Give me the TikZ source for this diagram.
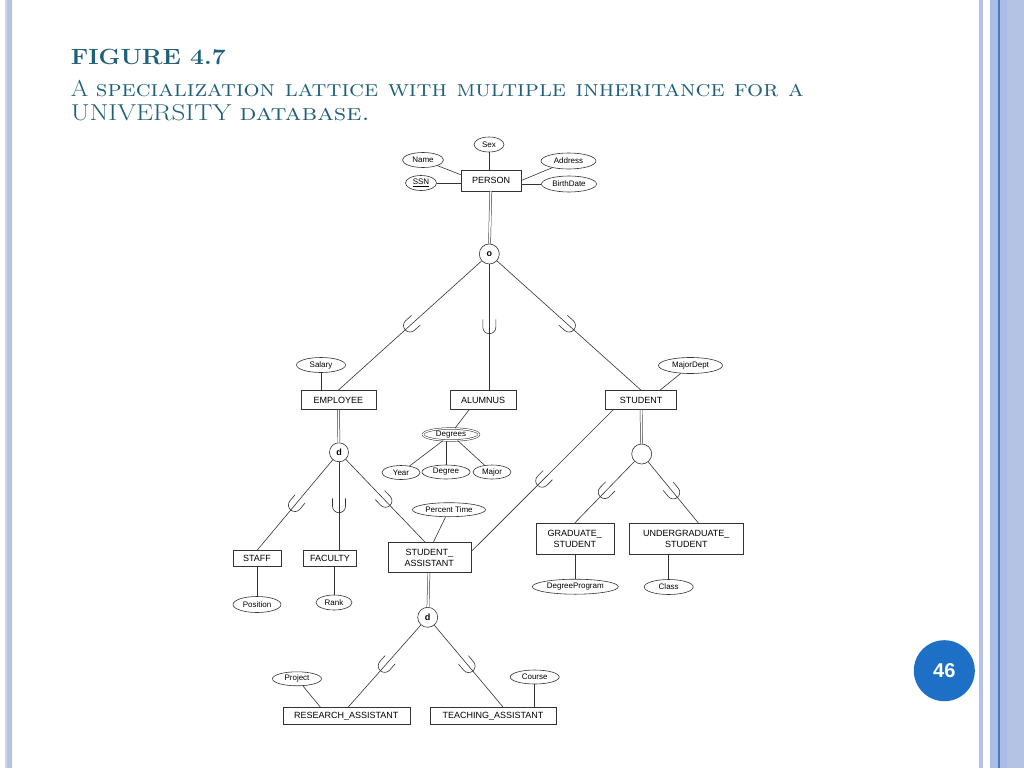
\documentclass[tikz,border=0pt]{standalone}
\usepackage{fontspec}
\setsansfont{Liberation Sans}
\usetikzlibrary{shapes.geometric,decorations.markings}
\definecolor{titlec}{RGB}{31,95,122}
\definecolor{stripeA}{RGB}{180,195,228}
\definecolor{stripeB}{RGB}{170,189,228}
\definecolor{stripeC}{RGB}{74,120,192}
\definecolor{stripeL}{RGB}{205,212,236}
\definecolor{badge}{RGB}{30,111,198}
\begin{document}
\begin{tikzpicture}[x=1pt,y=-1pt,
  ln/.style={line width=0.6pt, draw=black!80},
  dbl/.style={line width=0.5pt, draw=black!80, double=white, double distance=1.6pt},
  ent/.style={draw=black!80, line width=0.6pt, rectangle, inner sep=0pt, align=center, font=\sffamily\fontsize{9}{11}\selectfont},
  att/.style={draw=black!80, line width=0.6pt, ellipse, inner sep=0pt, font=\sffamily\fontsize{8}{9}\selectfont},
  spec/.style={draw=black!80, line width=0.6pt, circle, inner sep=0pt, minimum size=20pt, font=\sffamily\bfseries\fontsize{9}{10}\selectfont},
  subset/.style={postaction={decorate}, decoration={markings, mark=at position 0.5 with {\draw[line width=0.6pt, draw=black!80] (-8pt,6.5pt) -- (0pt,6.5pt) arc[start angle=90, end angle=-90, radius=6.5pt] -- (-8pt,-6.5pt);}}},
  ttl/.style={anchor=base west, inner sep=0pt, text=titlec}
]
% background and borders
\fill[white] (0,0) rectangle (1024,768);
\useasboundingbox (0,0) rectangle (1024,768);
\fill[stripeL] (5,0) rectangle (7,768);
\fill[stripeA] (7.3,0) rectangle (12,768);
\fill[stripeA] (979,0) rectangle (983,768);
\fill[stripeB] (990,0) rectangle (998.3,768);
\fill[stripeC] (998.3,0) rectangle (999.5,768);
\fill[stripeB] (999.5,0) rectangle (1006.7,768);
\fill[stripeA] (1006.7,0) rectangle (1024,768);

% title
\node[ttl, font=\bfseries\fontsize{22}{26}\selectfont] (t1) at (70.6,64) {\scalebox{1.124}[1]{FIGURE 4.7}};
\node[ttl, font=\fontsize{23}{27}\selectfont] (t2) at (70.6,96.7) {\scalebox{1.10}[1]{A \textsc{specialization lattice with multiple inheritance for a}}};
\node[ttl, font=\fontsize{23}{27}\selectfont] (t3) at (70.6,120) {\scalebox{1.18}[1]{UNIVERSITY \textsc{database.}}};

% badge
\node[circle, fill=badge, minimum size=61pt, inner sep=0pt, text=white, font=\sffamily\bfseries\fontsize{20}{22}\selectfont] (pg) at (944.3,670.7) {46};

% entities
\node[ent, minimum width=60pt, minimum height=21pt] (person) at (491,180.5) {PERSON};
\node[ent, minimum width=75pt, minimum height=19pt] (emp) at (338.3,400) {EMPLOYEE};
\node[ent, minimum width=66pt, minimum height=19pt] (alum) at (483,400) {ALUMNUS};
\node[ent, minimum width=71pt, minimum height=19pt] (stud) at (641,400) {STUDENT};
\node[ent, minimum width=48pt, minimum height=16pt] (staff) at (257,558.7) {STAFF};
\node[ent, minimum width=53pt, minimum height=16pt] (fac) at (330,558.7) {FACULTY};
\node[ent, minimum width=83pt, minimum height=30pt] (sa) at (429.3,557.7) {STUDENT\_\\ASSISTANT};
\node[ent, minimum width=78pt, minimum height=31pt] (grad) at (574.8,538.7) {GRADUATE\_\\STUDENT};
\node[ent, minimum width=114pt, minimum height=31pt] (ug) at (686.3,538.7) {UNDERGRADUATE\_\\STUDENT};
\node[ent, minimum width=127pt, minimum height=17pt] (ra) at (346.3,715.8) {RESEARCH\_ASSISTANT};
\node[ent, minimum width=126pt, minimum height=17pt] (ta) at (493,715.8) {TEACHING\_ASSISTANT};

% attributes
\node[att, minimum width=30pt, minimum height=15pt] (sex) at (489,144.5) {Sex};
\node[att, minimum width=41pt, minimum height=15pt] (name) at (423,160) {Name};
\node[att, minimum width=31pt, minimum height=15pt] (ssn) at (421,183) {\underline{SSN}};
\node[att, minimum width=55pt, minimum height=16pt] (addr) at (568.5,161) {Address};
\node[att, minimum width=55pt, minimum height=16pt] (bd) at (569,184) {BirthDate};
\node[att, minimum width=49pt, minimum height=15pt] (sal) at (321,365) {Salary};
\node[att, minimum width=64pt, minimum height=16pt] (md) at (690.5,365.5) {MajorDept};
\node[att, minimum width=56pt, minimum height=12pt, double=white, double distance=1.2pt, line width=0.5pt] (degs) at (451,434.5) {Degrees};
\node[att, minimum width=38pt, minimum height=14pt] (year) at (401,472.5) {Year};
\node[att, minimum width=48pt, minimum height=14pt] (degree) at (446,472) {Degree};
\node[att, minimum width=38pt, minimum height=14pt] (major) at (492,472) {Major};
\node[att, minimum width=73pt, minimum height=14pt] (pt) at (449,509.7) {Percent Time};
\node[att, minimum width=48pt, minimum height=16pt] (pos) at (257,604.5) {Position};
\node[att, minimum width=36pt, minimum height=15pt] (rank) at (334,602.5) {Rank};
\node[att, minimum width=86pt, minimum height=15pt] (dp) at (575.3,586.7) {DegreeProgram};
\node[att, minimum width=49pt, minimum height=15pt] (cls) at (668.7,587) {Class};
\node[att, minimum width=49pt, minimum height=14pt] (proj) at (297,678.8) {Project};
\node[att, minimum width=49pt, minimum height=14pt] (crs) at (534.7,677) {Course};

% specialization circles
\node[spec] (o) at (489.3,254) {o};
\node[spec, minimum size=19pt] (d1) at (339,452.3) {d};
\node[spec] (sc) at (641.7,454) {};
\node[spec] (d2) at (427.7,617.3) {d};

% attribute links
\draw[ln] (sex) -- (sex |- person.north);
\draw[ln] (name) -- ([yshift=-5pt]person.north west);
\draw[ln] (ssn) -- (ssn -| person.west);
\draw[ln] (addr) -- (person.east);
\draw[ln] (bd) -- (bd -| person.east);
\draw[ln] (sal) -- (sal |- emp.north);
\draw[ln] (md) -- ([xshift=19pt]stud.north);
\draw[ln] ([xshift=-14pt]alum.south) -- ([xshift=4pt]degs.north);
\draw[ln] (degs) -- (year);
\draw[ln] (degs.south -| degree) -- (degree);
\draw[ln] (degs) -- (major);
\draw[ln] (pt) -- ([xshift=4pt]sa.north);
\draw[ln] (pos) -- (pos |- staff.south);
\draw[ln] (rank) -- (rank |- fac.south);
\draw[ln] (dp) -- (dp |- grad.south);
\draw[ln] (cls) -- (cls |- ug.south);
\draw[ln] (proj) -- ([xshift=-26pt]ra.north);
\draw[ln] (crs) -- (crs |- ta.north);

% superclass links (double)
\draw[dbl] (person) -- (o);
\draw[dbl] (emp) -- (d1);
\draw[dbl] (stud) -- (sc);
\draw[dbl] (sa) -- (d2);

% subclass links with subset symbols
\draw[ln, subset] (o) -- (emp.north);
\draw[ln, subset] (o) -- (o |- alum.north);
\draw[ln, subset] (o) -- (stud.north);
\draw[ln, subset] (d1) -- (staff.north);
\draw[ln, subset] (d1) -- (d1 |- fac.north);
\draw[ln, subset] (d1) -- ([xshift=-4pt]sa.north);
\draw[ln, subset] ([xshift=8pt]stud.south west) -- ([yshift=6pt]sa.east);
\draw[ln, subset] (sc) -- (grad.north);
\draw[ln, subset] (sc) -- ([xshift=12pt]ug.north);
\draw[ln, subset] (d2) -- ([xshift=2pt]ra.north);
\draw[ln, subset] (d2) -- ([xshift=10pt]ta.north);
\end{tikzpicture}
\end{document}
